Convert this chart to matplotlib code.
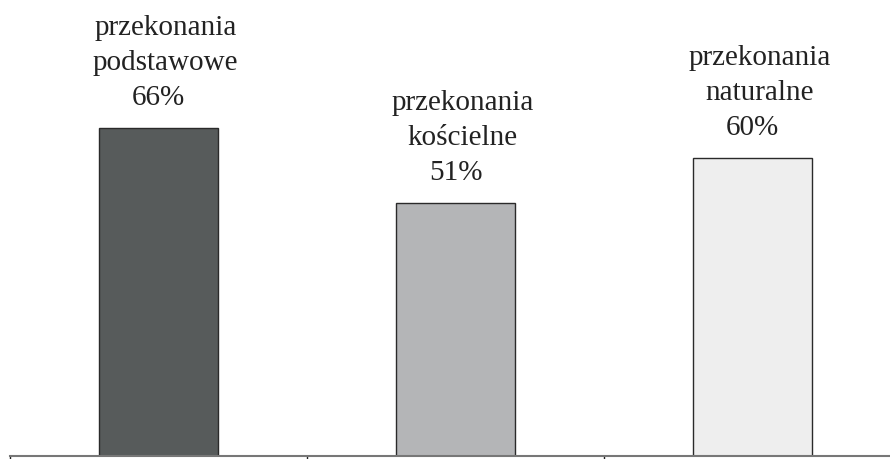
import matplotlib.pyplot as plt

names = [("przekonania", "podstawowe"), ("przekonania", "kościelne"), ("przekonania", "naturalne")]
values = [66, 51, 60]
pct_labels = ["66%", "51%", "60%"]
bar_colors = ["#575b5b", "#b4b5b7", "#eeeeee"]

plt.rcParams["font.family"] = ["Liberation Serif", "DejaVu Serif"]

fig = plt.figure(figsize=(8.9, 4.59), dpi=100)
# axes runs from x=10px past the right edge, baseline at y=456px
ax = fig.add_axes([10 / 890, 3 / 459, 891 / 890, 456 / 459])

x = range(len(values))
ax.bar(x, values, width=0.4, color=bar_colors, edgecolor="#2a2a2a", linewidth=1.0)

px = 0.72  # points per pixel at dpi 100
for i, v in enumerate(values):
    ax.annotate(pct_labels[i], (i, v), xytext=(0, 23 * px), textcoords="offset points",
                ha="center", va="baseline", fontsize=21, color="#222222")
    ax.annotate(names[i][1], (i, v), xytext=(7 * px, 58 * px), textcoords="offset points",
                ha="center", va="baseline", fontsize=21, color="#222222")
    ax.annotate(names[i][0], (i, v), xytext=(7 * px, 93 * px), textcoords="offset points",
                ha="center", va="baseline", fontsize=21, color="#222222")

ax.set_xlim(-0.5, 2.5)
ax.set_ylim(0, 456 / 4.97)
ax.set_xticks([-0.5, 0.5, 1.5, 2.5])
ax.set_xticklabels([])
ax.set_yticks([])
ax.tick_params(axis="x", direction="out", length=3, width=1, color="#222222")
for side in ["top", "right", "left"]:
    ax.spines[side].set_visible(False)
ax.spines["bottom"].set_color("#777777")
ax.spines["bottom"].set_linewidth(1.5)

fig.savefig("out.png", dpi=100)
